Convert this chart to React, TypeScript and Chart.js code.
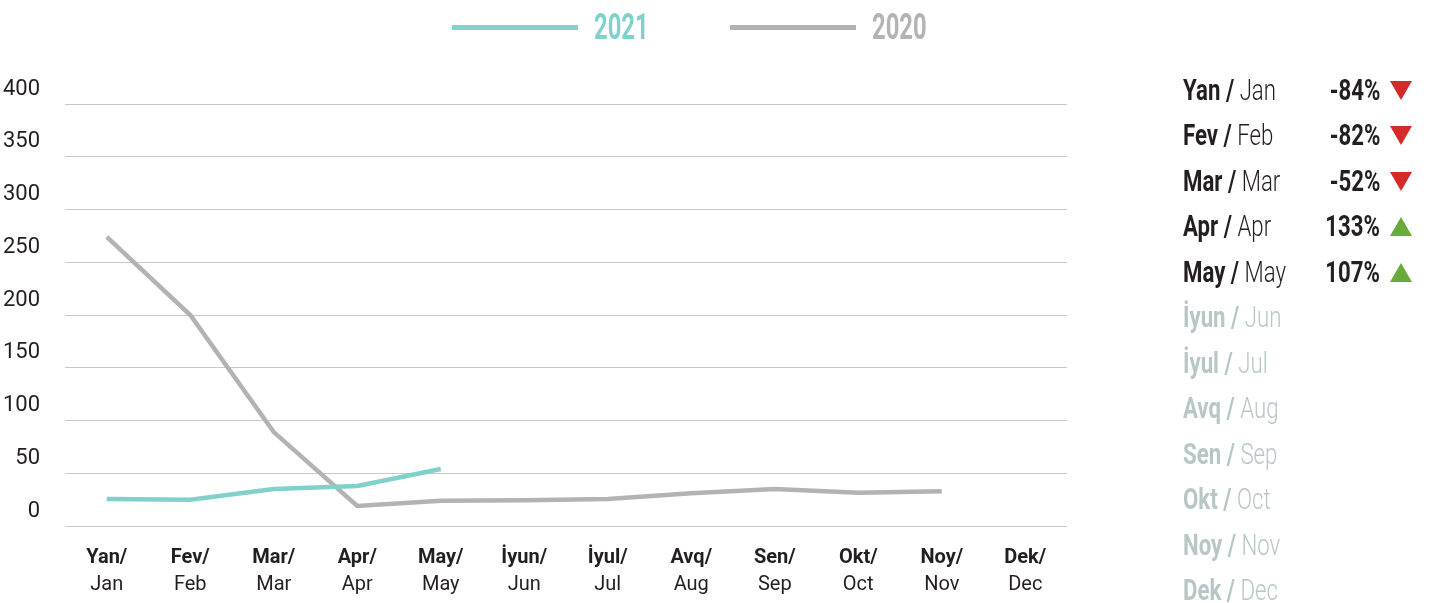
import React, { useEffect, useRef } from "react";
import { Chart, registerables } from "chart.js";

Chart.register(...registerables);

const monthsAz = ["Yan/", "Fev/", "Mar/", "Apr/", "May/", "İyun/", "İyul/", "Avq/", "Sen/", "Okt/", "Noy/", "Dek/"];
const monthsEn = ["Jan", "Feb", "Mar", "Apr", "May", "Jun", "Jul", "Aug", "Sep", "Oct", "Nov", "Dec"];
const panelAz = ["Yan", "Fev", "Mar", "Apr", "May", "İyun", "İyul", "Avq", "Sen", "Okt", "Noy", "Dek"];
const values2021: (number | null)[] = [25.5, 25, 35, 38, 54, null, null, null, null, null, null, null];
const values2020: (number | null)[] = [274, 200, 89, 19, 24, 24.5, 25.5, 31, 35, 31.5, 33, null];
const changes: (string | null)[] = ["-84%", "-82%", "-52%", "133%", "107%", null, null, null, null, null, null, null];
const yTicks = [0, 50, 100, 150, 200, 250, 300, 350, 400];
const seriesNames = ["2021", "2020"];

const COLOR_2021 = "#80d1cc";
const COLOR_2020 = "#b3b3b3";
const FONT = 'Roboto, "Liberation Sans", sans-serif';

export default function App() {
  const ref = useRef<HTMLCanvasElement | null>(null);

  useEffect(() => {
    if (!ref.current) return;
    const chart = new Chart(ref.current, {
      type: "line",
      data: {
        labels: monthsAz,
        datasets: [
          {
            label: seriesNames[0],
            data: values2021,
            borderColor: COLOR_2021,
            backgroundColor: COLOR_2021,
            borderWidth: 4.5,
            pointRadius: 0,
            tension: 0,
            xAxisID: "x",
          },
          {
            label: seriesNames[1],
            data: values2020,
            borderColor: COLOR_2020,
            backgroundColor: COLOR_2020,
            borderWidth: 4.5,
            pointRadius: 0,
            tension: 0,
            xAxisID: "x",
          },
        ],
      },
      options: {
        animation: false,
        responsive: true,
        maintainAspectRatio: false,
        layout: { padding: { top: 104, right: 362, bottom: 0, left: 0 } },
        plugins: {
          legend: { display: false },
          tooltip: { enabled: false },
        },
        scales: {
          x: {
            type: "category",
            offset: true,
            grid: { display: false, drawTicks: false },
            border: { display: false },
            afterFit: (scale: any) => {
              scale.height = 43;
            },
            ticks: {
              color: "#231f20",
              padding: 20,
              maxRotation: 0,
              autoSkip: false,
              font: { family: FONT, size: 20, weight: "bold", lineHeight: 1.2 },
            },
          },
          x2: {
            type: "category",
            labels: monthsEn,
            position: "bottom",
            offset: true,
            grid: { display: false, drawTicks: false },
            border: { display: false },
            afterFit: (scale: any) => {
              scale.height = 34;
            },
            ticks: {
              color: "#231f20",
              padding: 4,
              maxRotation: 0,
              autoSkip: false,
              font: { family: FONT, size: 20, weight: "normal", lineHeight: 1.2 },
            },
          },
          y: {
            min: 0,
            max: 400,
            afterBuildTicks: (scale: any) => {
              scale.ticks = yTicks.map((v) => ({ value: v }));
            },
            afterFit: (scale: any) => {
              scale.width = 65;
            },
            grid: { color: "#c8c8c8", lineWidth: 1, drawTicks: false },
            border: { display: false },
            ticks: {
              color: "#231f20",
              padding: 25,
              labelOffset: -15,
              font: { family: FONT, size: 22 },
            },
          },
        },
      },
    });
    return () => chart.destroy();
  }, []);

  const rowTop = 90;
  const rowGap = 45.45;

  return (
    <div style={{ position: "fixed", left: 0, top: 0, width: 1429, height: 603, background: "#fff", fontFamily: FONT }}>
      <div style={{ position: "absolute", left: 0, top: 0, width: 1429, height: 603 }}>
        <canvas ref={ref} />
      </div>
      {/* Legend */}
      {seriesNames.map((name, i) => {
        const lineLeft = i === 0 ? 452 : 730;
        const color = i === 0 ? COLOR_2021 : COLOR_2020;
        return (
          <div key={name} style={{ position: "absolute", left: lineLeft, top: 8, height: 38, display: "flex", alignItems: "center" }}>
            <div style={{ width: 126, height: 5, background: color }} />
            <span
              style={{
                marginLeft: 16,
                fontSize: 36,
                fontWeight: "bold",
                color,
                lineHeight: "38px",
                display: "inline-block",
                transform: "scaleX(0.66)",
                transformOrigin: "left center",
              }}
            >
              {name}
            </span>
          </div>
        );
      })}
      {/* Right panel */}
      {panelAz.map((az, i) => {
        const val = changes[i];
        const active = val !== null;
        const c = active ? "#231f20" : "#b9c6c6";
        const up = val !== null && !val.startsWith("-");
        const top = rowTop + i * rowGap - 19;
        return (
          <React.Fragment key={az}>
            <div
              style={{
                position: "absolute",
                left: 1183,
                top,
                height: 38,
                lineHeight: "38px",
                fontSize: 30,
                color: c,
                whiteSpace: "nowrap",
                transform: "scaleX(0.74)",
                transformOrigin: "left center",
              }}
            >
              <span style={{ fontWeight: "bold" }}>{az} / </span>
              <span style={{ fontWeight: 300 }}>{monthsEn[i]}</span>
            </div>
            {val !== null && (
              <>
                <div
                  style={{
                    position: "absolute",
                    right: 1429 - 1380,
                    top,
                    height: 38,
                    lineHeight: "38px",
                    fontSize: 30,
                    fontWeight: "bold",
                    color: "#231f20",
                    whiteSpace: "nowrap",
                    transform: "scaleX(0.74)",
                    transformOrigin: "right center",
                  }}
                >
                  {val}
                </div>
                <div
                  style={{
                    position: "absolute",
                    left: 1390,
                    top: top + 10,
                    width: 0,
                    height: 0,
                    borderLeft: "11.5px solid transparent",
                    borderRight: "11.5px solid transparent",
                    ...(up ? { borderBottom: "19px solid #6aaa3a" } : { borderTop: "19px solid #d42a2a" }),
                  }}
                />
              </>
            )}
          </React.Fragment>
        );
      })}
    </div>
  );
}
